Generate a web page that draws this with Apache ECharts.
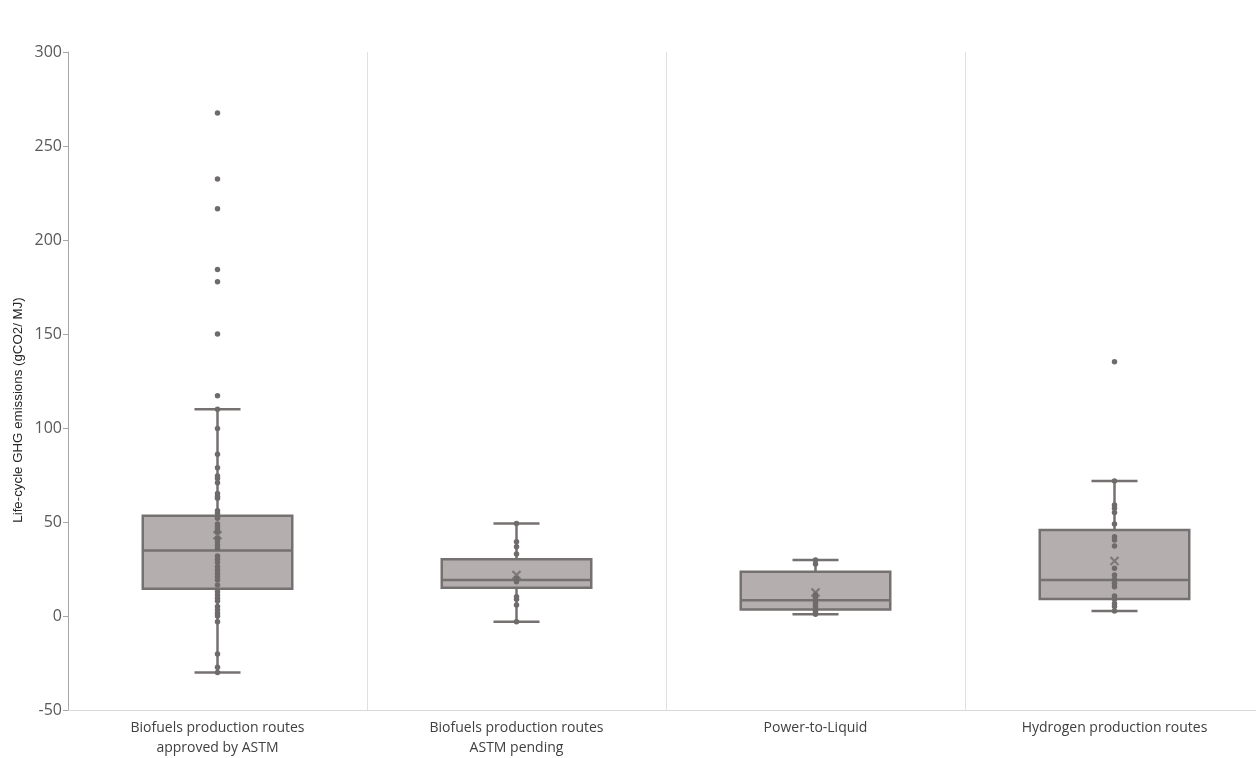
<!DOCTYPE html>
<html><head><meta charset="utf-8">
<script src="https://cdn.jsdelivr.net/npm/echarts@6/dist/echarts.min.js"></script>
<style>html,body{margin:0;padding:0;background:#fff}#c{width:1256px;height:758px}</style>
</head><body><div id="c"></div>
<script>
const categories = ['Biofuels production routes\napproved by ASTM', 'Biofuels production routes\nASTM pending', 'Power-to-Liquid', 'Hydrogen production routes'];
// [whiskerLow, Q1, median, Q3, whiskerHigh]
const boxStats = [
  [-30, 14.5, 34.8, 53.3, 110],
  [-3, 15, 19.2, 30.2, 49.2],
  [0.9, 3.5, 8.4, 23.5, 29.8],
  [2.7, 9, 19.2, 45.8, 71.8]
];
const means = [43, 21.8, 12.5, 29.3];
const pointsBioApproved = [267.5, 232.4, 216.6, 184.3, 177.8, 150, 117.2, 110, 99.8, 86, 78.9, 74.5, 73.2, 70.9, 65.2, 63.5, 62.6, 56, 54.6, 52.8, 52, 48.9, 47.5, 46.1, 44.8, 41.3, 39.5, 37.8, 36, 31.9, 30.2, 28.4, 26.2, 24.5, 22.7, 20.9, 19.1, 16.5, 12.9, 11.2, 9.4, 8, 5, 3.2, 1.4, 0, -3, -20.2, -27.3, -30];
const pointsBioPending = [49.2, 39.5, 36.9, 33, 20, 18.2, 10.3, 8.9, 5.9, -3];
const pointsPtL = [29.8, 27.7, 11.5, 10, 8.4, 6.8, 5.5, 4.2, 3, 2, 0.9];
const pointsHydrogen = [135.3, 71.8, 59, 57.3, 55, 48.9, 42.2, 40.4, 37.2, 25.4, 21.8, 19.5, 17.4, 15.6, 10.6, 8.9, 6.7, 5, 2.7];
const yTicks = [-50, 0, 50, 100, 150, 200, 250, 300];

const allPoints = [pointsBioApproved, pointsBioPending, pointsPtL, pointsHydrogen];
const scatterData = [];
allPoints.forEach((arr, i) => arr.forEach(v => scatterData.push([i, v])));

const boxColor = '#b4aeae', strokeColor = '#767171', ptColor = '#6f6b6b';

const chart = echarts.init(document.getElementById('c'));
chart.setOption({
  animation: false,
  grid: {left: 68, width: 1196, top: 52, bottom: 48, outerBoundsMode: 'none', containLabel: false},
  xAxis: {
    type: 'category', data: categories, boundaryGap: true,
    axisLine: {show: true, onZero: false, lineStyle: {color: '#d9d9d9', width: 1}},
    axisTick: {show: false},
    splitLine: {show: true, lineStyle: {color: '#e0e0e0', width: 1}},
    axisLabel: {color: '#404040', fontSize: 14, lineHeight: 20, margin: 8, fontFamily: 'Liberation Sans Narrow, Open Sans, sans-serif', interval: 0}
  },
  yAxis: {
    type: 'value', min: yTicks[0], max: yTicks[yTicks.length - 1], interval: 50,
    axisLine: {show: true, lineStyle: {color: '#a6a6a6'}},
    axisTick: {show: true, length: 5, lineStyle: {color: '#a6a6a6'}},
    splitLine: {show: false},
    axisLabel: {color: '#595959', fontSize: 16, margin: 6, fontFamily: 'Open Sans, sans-serif'}
  },
  graphic: [{
    type: 'text', x: 18, y: 410, rotation: Math.PI / 2,
    style: {text: 'Life-cycle GHG emissions (gCO2/ MJ)', fill: '#262626', font: '13.3px "Liberation Sans", Arial, sans-serif', align: 'center', verticalAlign: 'middle'}
  }],
  series: [
    {
      type: 'custom',
      data: boxStats.map((s, i) => [i].concat(s)),
      encode: {x: 0, y: [1, 2, 3, 4, 5]},
      z: 2,
      renderItem: function (params, api) {
        const i = api.value(0);
        const bw = api.size([1, 0])[0];
        const half = bw * 0.25, cap = bw * 0.077;
        const lo = api.coord([i, api.value(1)]), q1 = api.coord([i, api.value(2)]),
          md = api.coord([i, api.value(3)]), q3 = api.coord([i, api.value(4)]), hi = api.coord([i, api.value(5)]);
        const x = lo[0];
        const ls = {stroke: strokeColor, lineWidth: 2.5};
        return {type: 'group', children: [
          {type: 'line', shape: {x1: x, y1: hi[1], x2: x, y2: q3[1]}, style: ls},
          {type: 'line', shape: {x1: x, y1: q1[1], x2: x, y2: lo[1]}, style: ls},
          {type: 'line', shape: {x1: x - cap, y1: hi[1], x2: x + cap, y2: hi[1]}, style: ls},
          {type: 'line', shape: {x1: x - cap, y1: lo[1], x2: x + cap, y2: lo[1]}, style: ls},
          {type: 'rect', shape: {x: x - half, y: q3[1], width: half * 2, height: q1[1] - q3[1]}, style: {fill: boxColor, stroke: strokeColor, lineWidth: 2.5}},
          {type: 'line', shape: {x1: x - half, y1: md[1], x2: x + half, y2: md[1]}, style: ls}
        ]};
      }
    },
    {
      type: 'scatter', data: scatterData, symbol: 'circle', symbolSize: 5.5, z: 3,
      itemStyle: {color: ptColor, opacity: 1}
    },
    {
      type: 'scatter', data: means.map((m, i) => [i, m]), z: 4,
      symbol: 'path://M0,0L10,10M10,0L0,10', symbolSize: 8,
      itemStyle: {color: 'none', borderColor: ptColor, borderWidth: 2.2}
    }
  ]
});
</script></body></html>
